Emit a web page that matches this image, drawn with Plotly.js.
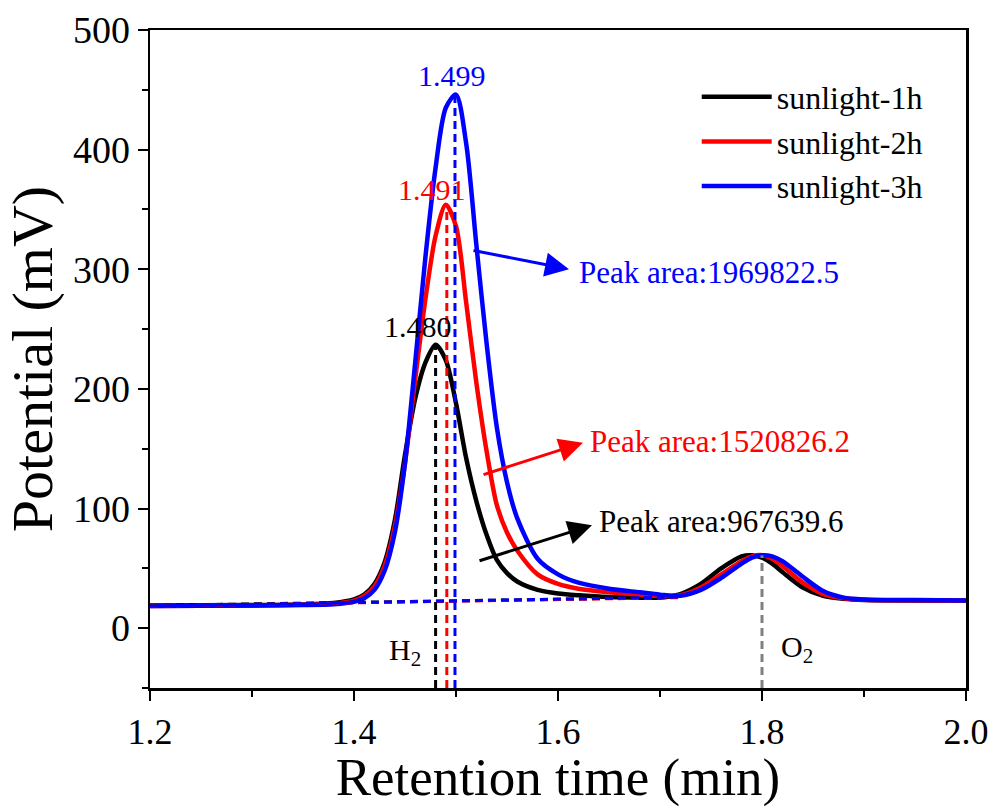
<!DOCTYPE html>
<html>
<head>
<meta charset="utf-8">
<script src="https://cdn.plot.ly/plotly-3.0.1.min.js"></script>
<style>html,body{margin:0;padding:0;background:#fff;}#chart{width:996px;height:807px;}</style>
</head>
<body>
<div id="chart"></div>
<script>
// Retention time grid (min)
var times = [1.20, 1.30, 1.35, 1.38, 1.40, 1.41, 1.42, 1.43, 1.44, 1.45, 1.46, 1.47, 1.48, 1.49, 1.50, 1.51, 1.52, 1.53, 1.54, 1.55, 1.56, 1.58, 1.60, 1.62, 1.65, 1.68, 1.70, 1.72, 1.74, 1.76, 1.78, 1.79, 1.80, 1.81, 1.82, 1.84, 1.86, 1.88, 1.90, 1.95, 2.00];
// Potential (mV)
var sun1h = [19, 19.3, 19.8, 21, 24, 28, 37, 55, 90, 145, 192, 222, 237, 224, 188, 142, 106, 78, 57, 46, 39, 32, 29, 27.5, 26, 25.5, 25.5, 28.5, 37, 50, 60, 61, 59, 54, 47, 34, 27, 24.5, 23.5, 23.2, 23];
var sun2h = [18.5, 19, 19.5, 20.5, 23, 27, 35, 52, 85, 138, 208, 275, 328, 354, 336, 272, 205, 148, 103, 80, 65, 45, 37, 33, 30, 28, 27, 27.5, 34, 45, 56, 60, 61, 58, 52, 38, 28.5, 25, 23.8, 23.3, 23];
var sun3h = [18.5, 19, 19.3, 20, 22, 25, 32, 48, 80, 138, 222, 310, 385, 435, 446, 405, 320, 238, 168, 122, 92, 58, 45, 38, 33, 30, 28, 27, 32, 42, 54, 59, 61, 60, 56, 43, 31, 25.5, 24, 23.5, 23.2];

var seriesNames = ['sunlight-1h', 'sunlight-2h', 'sunlight-3h'];
var seriesColors = ['#000000', '#ff0000', '#0000ff'];
var seriesData = [sun1h, sun2h, sun3h];

// H2 peak retention times and heights
var peakTimes = [1.480, 1.491, 1.499];
var peakLabels = ['1.480', '1.491', '1.499'];
var peakHeights = [237, 354, 446];
var peakAreas = ['Peak area:967639.6', 'Peak area:1520826.2', 'Peak area:1969822.5'];
// baseline (integration) segments: start/end time and value
var baseStartT = [1.20, 1.20, 1.20];
var baseStartV = [19, 18.5, 18.5];
var baseEndT = [1.70, 1.72, 1.72];
var baseEndV = [25.5, 25.5, 26];
// O2 peak
var o2Time = 1.80;
var o2Height = 61;

var FONT = 'Liberation Serif, Times New Roman, serif';
var traces = [];
for (var i = 0; i < 3; i++) {
  traces.push({
    x: times, y: seriesData[i], type: 'scatter', mode: 'lines',
    name: seriesNames[i],
    line: {color: seriesColors[i], width: 4.5, shape: 'spline', smoothing: 0.8}
  });
}
// baseline dashed segments
for (var i = 0; i < 3; i++) {
  traces.push({
    x: [baseStartT[i], baseEndT[i]], y: [baseStartV[i], baseEndV[i]],
    type: 'scatter', mode: 'lines', showlegend: false, hoverinfo: 'skip',
    line: {color: seriesColors[i], width: 3, dash: '8px,5px'}
  });
}
// vertical dashed lines at peaks
for (var i = 0; i < 3; i++) {
  traces.push({
    x: [peakTimes[i], peakTimes[i]], y: [-50, peakHeights[i]],
    type: 'scatter', mode: 'lines', showlegend: false, hoverinfo: 'skip',
    line: {color: seriesColors[i], width: 3, dash: '8px,5px'}
  });
}
traces.push({
  x: [o2Time, o2Time], y: [-50, o2Height],
  type: 'scatter', mode: 'lines', showlegend: false, hoverinfo: 'skip',
  line: {color: '#808080', width: 3, dash: '8px,5px'}
});

// label positions
var peakLabelX = [1.463, 1.476, 1.496];
var peakLabelY = [252, 367, 462];
var areaTextX = [1.638, 1.6294, 1.6186];
var areaTextY = [89, 156, 297];
var arrowTailX = [1.5216, 1.5255, 1.5157];
var arrowTailY = [56, 128, 316];
var arrowTipX = [1.6333, 1.6245, 1.6108];
var arrowTipY = [86, 155, 300];

var annotations = [];
for (var i = 0; i < 3; i++) {
  annotations.push({
    x: peakLabelX[i], y: peakLabelY[i], xref: 'x', yref: 'y', text: peakLabels[i],
    showarrow: false, font: {family: FONT, size: 30, color: seriesColors[i]}
  });
  annotations.push({
    x: areaTextX[i], y: areaTextY[i], xref: 'x', yref: 'y', text: peakAreas[i],
    xanchor: 'left', showarrow: false, font: {family: FONT, size: 31, color: seriesColors[i]}
  });
  annotations.push({
    x: arrowTipX[i], y: arrowTipY[i], xref: 'x', yref: 'y',
    ax: arrowTailX[i], ay: arrowTailY[i], axref: 'x', ayref: 'y',
    text: '', showarrow: true, arrowhead: 2, arrowsize: 1.6, arrowwidth: 3,
    arrowcolor: seriesColors[i], standoff: 0, startstandoff: 0
  });
}
annotations.push({x: 1.45, y: -20, xref: 'x', yref: 'y', text: 'H<sub>2</sub>', showarrow: false,
  font: {family: FONT, size: 30, color: '#000'}});
annotations.push({x: 1.834, y: -17, xref: 'x', yref: 'y', text: 'O<sub>2</sub>', showarrow: false,
  font: {family: FONT, size: 30, color: '#000'}});

var layout = {
  width: 996, height: 807,
  margin: {l: 150, r: 30, t: 30, b: 119},
  paper_bgcolor: '#fff', plot_bgcolor: '#fff',
  font: {family: FONT, color: '#000'},
  showlegend: true,
  legend: {x: 0.67, y: 0.94, xanchor: 'left', yanchor: 'top', bgcolor: 'rgba(0,0,0,0)',
    font: {family: FONT, size: 32, color: '#000'}, itemwidth: 70, tracegroupgap: 0},
  xaxis: {
    range: [1.2, 2.0], dtick: 0.2, tick0: 1.2, tickformat: '.1f',
    showgrid: false, zeroline: false, showline: true, linecolor: '#000', linewidth: 2.5,
    mirror: true, ticks: 'outside', ticklen: 10, tickwidth: 2, tickcolor: '#000',
    minor: {dtick: 0.1, ticks: 'outside', ticklen: 6, tickwidth: 2, tickcolor: '#000', showgrid: false},
    tickfont: {family: FONT, size: 36, color: '#000'},
    title: {text: 'Retention time (min)', font: {family: FONT, size: 53, color: '#000'}, standoff: 0}
  },
  yaxis: {
    range: [-50, 500], dtick: 100, tick0: 0,
    showgrid: false, zeroline: false, showline: true, linecolor: '#000', linewidth: 2.5,
    mirror: true, ticks: 'outside', ticklen: 10, tickwidth: 2, tickcolor: '#000',
    minor: {dtick: 50, ticks: 'outside', ticklen: 6, tickwidth: 2, tickcolor: '#000', showgrid: false},
    tickfont: {family: FONT, size: 38, color: '#000'},
    title: {text: 'Potential (mV)', font: {family: FONT, size: 58, color: '#000'}, standoff: 4}
  },
  annotations: annotations
};
Plotly.newPlot('chart', traces, layout, {displayModeBar: false, staticPlot: true});
</script>
</body>
</html>
